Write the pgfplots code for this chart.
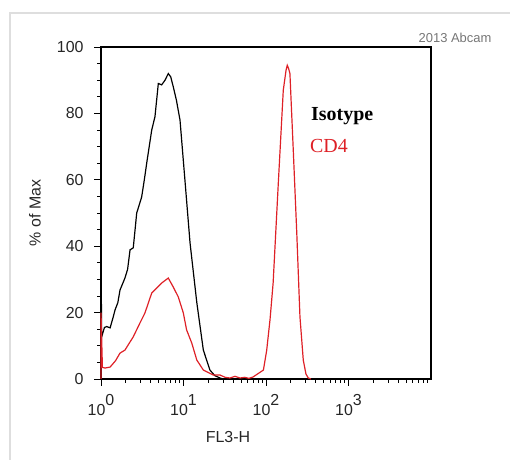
\documentclass[border=0pt]{standalone}
\usepackage{fontspec}
\setmainfont{Liberation Sans}
\newfontfamily\legfont{Liberation Serif}
\usepackage{pgfplots}
\pgfplotsset{compat=1.18}
\definecolor{cdred}{RGB}{222,32,38}
\definecolor{framegray}{RGB}{222,222,222}
\definecolor{wmgray}{RGB}{118,118,118}
\newcommand\tp[1]{10\raisebox{0.62em}{#1}}
\begin{document}
\begin{tikzpicture}[x=1bp,y=1bp]
\path[use as bounding box] (0,0) rectangle (510,460);
\draw[framegray, line width=2bp] (10,0) -- (10,447) -- (510,447);
\node[wmgray, font=\fontsize{13}{14}\selectfont] at (455,422) {2013 Abcam};
\begin{axis}[
  at={(101bp,81bp)}, anchor=south west,
  scale only axis, width=330bp, height=332bp,
  xmode=log, xmin=1, xmax=10000, ymin=0, ymax=100,
  axis line style={line width=1.1pt},
  tick align=outside, xtick pos=bottom, ytick pos=left,
  major tick length=7bp, minor tick length=4bp,
  every tick/.style={black, line width=0.7pt},
  xtick={1,10,100,1000},
  xticklabels={\tp{0},\tp{1},\tp{2},\tp{3}},
  minor xtick={2,3,4,5,6,7,8,9,20,30,40,50,60,70,80,90,200,300,400,500,600,700,800,900,2000,3000,4000,5000,6000,7000,8000,9000},
  ytick={0,20,40,60,80,100},
  minor y tick num=3,
  /pgf/number format/assume math mode=true,
  tick label style={font=\fontsize{16}{18}\selectfont, text=black!85},
  xticklabel style={yshift=-5bp},
  yticklabel style={xshift=-7bp},
  clip=false,
]
\addplot[black, line width=1.2pt] coordinates {
(1,0) (1,67) (1.008,30) (1.015,14) (1.02,12.7) (1.1,15.5) (1.17,15.8) (1.29,15.4)
(1.40,18.5) (1.48,20.8) (1.60,23) (1.70,26.8) (1.95,30.4) (2.1,33) (2.25,38.9)
(2.46,39.5) (2.71,50) (3.11,54.8) (3.35,60) (3.58,65) (4.12,75) (4.51,79)
(4.95,89) (5.44,88.6) (5.97,90) (6.54,92) (7.0,91) (7.52,88) (8.2,84)
(9.07,78) (10.4,60) (12.0,41) (14.5,23) (17.4,8.7) (20.9,2.7) (24,1) (27.7,0.3) (30,0)
};
\addplot[cdred, line width=1.2pt] coordinates {
(1,0) (1,20) (1.04,3.5) (1.12,3.3) (1.29,3.6) (1.5,5.5) (1.70,7.8) (1.95,8.7)
(2.46,12.7) (2.97,16.9) (3.41,19.9) (4.12,25.9) (4.73,27.4) (5.44,28.9) (6.54,30.4)
(7.52,27.7) (8.65,24.7) (9.95,19.9) (10.9,14.8) (12.6,10.8) (14.5,5.7) (17.4,2.7)
(23,1.2) (27.7,1.2) (32,0.5) (36.6,0.3) (42,0.8) (48.4,0.3) (55,0.5) (62,0.2)
(69.6,0.6) (84.5,2) (93,2.7) (102,8.7) (112,18) (122,28.9) (141,59) (162,87)
(175,93) (181,94.5) (188,93.5) (195,92) (214,69) (236,44) (258,18.7) (283,5.7)
(305,1.5) (326,0.3) (350,0)
};
\end{axis}
\node[rotate=90, font=\fontsize{16}{18}\selectfont, text=black!85] at (35,247) {\% of Max};
\node[font=\fontsize{16}{18}\selectfont, text=black!85] at (228,23) {FL3-H};
\node[anchor=base west, inner sep=0pt, font=\legfont\bfseries\fontsize{20}{22}\selectfont] at (311,339) {Isotype};
\node[anchor=base west, inner sep=0pt, text=cdred, font=\legfont\fontsize{20}{22}\selectfont] at (310,307) {CD4};
\end{tikzpicture}
\end{document}
